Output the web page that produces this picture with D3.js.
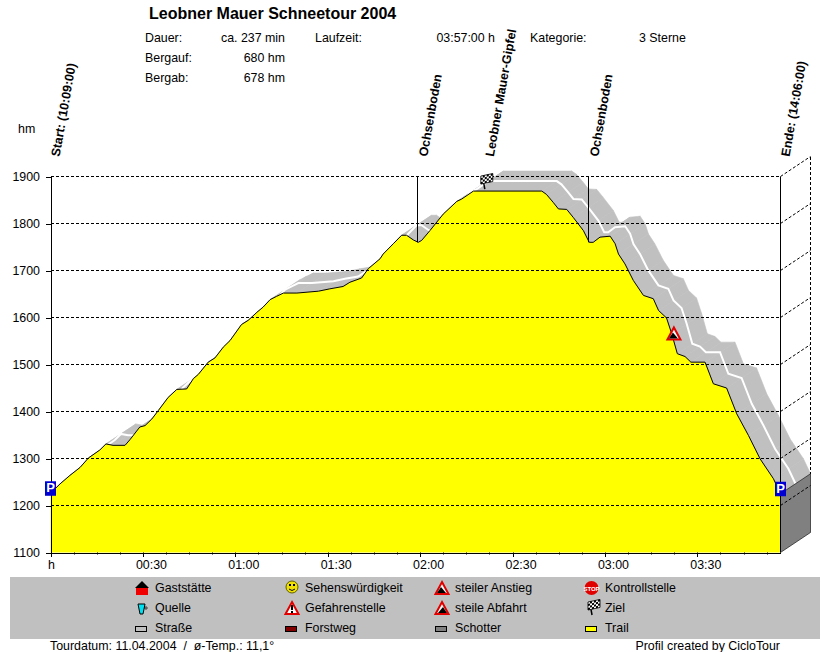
<!DOCTYPE html>
<html>
<head>
    <title>Leobner Mauer Schneetour 2004</title>
    <script src="https://cdnjs.cloudflare.com/ajax/libs/d3/7.8.5/d3.min.js"></script>
    <style>
        body { margin: 0; background: #fff; }
        svg { display: block; }
        text { font-family: "Liberation Sans", Arial, sans-serif; font-size: 12.4px; fill: #000; }
        .title { font-size: 16px; font-weight: bold; }
        .waypoint { font-size: 12.5px; font-weight: bold; }
        .grid { stroke: #000; stroke-width: 1; stroke-dasharray: 3 2; fill: none; shape-rendering: crispEdges; }
        .axis path, .axis line { stroke: #000; shape-rendering: crispEdges; }
    </style>
</head>
<body>
    <div id="chart"></div>
    <script>
        // profile: minutes since start, height in hm
        const minutes = [0, 3.1, 6.3, 9.6, 12.3, 16, 18, 20.3, 24.2, 25.8, 29, 30.7, 32.9, 35, 38.2, 41, 44.2, 46.4, 48, 51.2, 53.4, 56.1, 58.3, 62, 64.2, 67, 69, 71.3, 73.4, 75.6, 80, 87, 90.7, 95, 97.2, 101, 103.2, 107, 108, 111.3, 114, 115.6, 117.8, 119.4, 120.5, 123.2, 127.5, 131.9, 133.5, 137.3, 159.5, 161, 163.2, 164.9, 167.6, 169.7, 173, 174.9, 176.2, 178.4, 181.7, 183.3, 184.4, 186.5, 189.2, 192.5, 195.7, 197.4, 200, 201.7, 203.5, 206, 207.9, 212.5, 215.2, 219.5, 222.8, 226.6, 230.4, 234.7, 237];
        const elevation = [1226, 1246, 1264, 1281, 1301, 1318, 1331, 1328, 1328, 1340, 1367, 1370, 1384, 1402, 1430, 1447, 1448, 1470, 1479, 1505, 1514, 1537, 1551, 1585, 1594, 1611, 1622, 1638, 1645, 1652, 1652, 1656, 1661, 1666, 1675, 1684, 1704, 1725, 1735, 1757, 1775, 1775, 1765, 1760, 1764, 1785, 1820, 1847, 1852, 1869, 1869, 1862, 1845, 1831, 1830, 1813, 1785, 1760, 1760, 1771, 1773, 1757, 1735, 1714, 1679, 1647, 1640, 1615, 1599, 1565, 1523, 1517, 1505, 1505, 1459, 1450, 1395, 1349, 1299, 1257, 1225];

        const yTicks = [1100, 1200, 1300, 1400, 1500, 1600, 1700, 1800, 1900];
        const xMajor = [0, 30, 60, 90, 120, 150, 180, 210];
        const xLabels = ["h", "00:30", "01:00", "01:30", "02:00", "02:30", "03:00", "03:30"];
        const xMinor = d3.range(7.5, 237, 7.5);

        const waypointNames = ["Start: (10:09:00)", "Ochsenboden", "Leobner Mauer-Gipfel", "Ochsenboden", "Ende: (14:06:00)"];
        const waypointMinutes = [0, 119.4, 141, 174.9, 237];
        const hazardMinute = 202.4;
        const hazardHeight = 1565;

        const legendLabels = ["Gaststätte", "Quelle", "Straße", "Sehenswürdigkeit", "Gefahrenstelle", "Forstweg", "steiler Anstieg", "steile Abfahrt", "Schotter", "Kontrollstelle", "Ziel", "Trail"];
        const legendIcons = ["inn", "spring", "#c0c0c0", "smile", "danger", "#800000", "up", "down", "#808080", "stop", "flag", "#ffff00"];

        const infoLeft = [["Dauer:", "ca. 237 min"], ["Bergauf:", "680 hm"], ["Bergab:", "678 hm"]];

        const W = 830, H = 652;
        const depth = {x: 30, y: -20};

        const svg = d3.select("#chart").append("svg").attr("width", W).attr("height", H);

        const x = d3.scaleLinear().domain([0, 237]).range([50.5, 780.5]);
        const y = d3.scaleLinear().domain([1100, 1900]).range([552.5, 176.5]);

        const profile = minutes.map((m, i) => [x(m), y(elevation[i])]);

        // road surface in the depth direction, one quad per step so folds stay filled
        svg.append("g").selectAll("polygon")
            .data(d3.pairs(profile))
            .join("polygon")
            .attr("points", ([a, b]) => [a, b, [b[0] + depth.x, b[1] + depth.y], [a[0] + depth.x, a[1] + depth.y]].join(" "))
            .attr("fill", "#c0c0c0")
            .attr("stroke", "#c0c0c0")
            .attr("stroke-width", 0.6);

        svg.append("path")
            .attr("d", d3.line()(profile.map(p => [p[0] + depth.x / 2, p[1] + depth.y / 2])))
            .attr("fill", "none")
            .attr("stroke", "#fff")
            .attr("stroke-width", 2);

        svg.append("path")
            .attr("d", d3.area().x(d => d[0]).y1(d => d[1]).y0(y(1100))(profile))
            .attr("fill", "#ffff00");

        // end wall
        const end = profile[profile.length - 1];
        svg.append("polygon")
            .attr("points", [end, [end[0] + depth.x, end[1] + depth.y], [x(237) + depth.x, y(1100) + depth.y], [x(237), y(1100)]].join(" "))
            .attr("fill", "#808080")
            .attr("stroke", "#000")
            .attr("stroke-width", 0.6);

        // grid, front and back
        const grid = svg.append("g").attr("class", "grid");
        yTicks.filter(d => d > 1100).forEach(t => {
            grid.append("line").attr("x1", x(0)).attr("x2", x(237)).attr("y1", y(t)).attr("y2", y(t));
        });
        yTicks.filter(d => d > 1100).forEach(t => {
            grid.append("line").attr("x1", x(237)).attr("x2", x(237) + depth.x)
                .attr("y1", y(t)).attr("y2", y(t) + depth.y)
                .style("shape-rendering", "auto");
        });
        grid.append("line").attr("x1", x(237) + depth.x).attr("x2", x(237) + depth.x)
            .attr("y1", y(1900) + depth.y).attr("y2", end[1] + depth.y);

        svg.append("path")
            .attr("d", d3.line()(profile))
            .attr("fill", "none")
            .attr("stroke", "#000")
            .attr("stroke-width", 1);

        // axes
        const yAxis = svg.append("g").attr("class", "axis")
            .attr("transform", `translate(${x(0)},0)`)
            .call(d3.axisLeft(y).tickValues(yTicks).tickFormat(d => d).tickSize(5).tickSizeOuter(0));
        yAxis.selectAll("text").style("font-size", "12.4px").attr("x", -10.5).attr("fill", "#000");
        yAxis.select(".domain").attr("stroke", "#000");

        const xAxis = svg.append("g").attr("class", "axis")
            .attr("transform", `translate(0,${y(1100)})`)
            .call(d3.axisBottom(x).tickValues(xMajor).tickFormat((d, i) => xLabels[i]).tickSize(4).tickSizeOuter(0));
        xAxis.selectAll("text")
            .style("font-size", "12.4px")
            .style("text-anchor", "start")
            .attr("fill", "#000")
            .attr("x", (d, i) => i === 0 ? -3 : -7.5)
            .attr("y", 8)
            .attr("dy", "0.71em");
        svg.append("g").selectAll("line").data(xMinor).join("line")
            .attr("x1", d => Math.round(x(d)) + 0.5).attr("x2", d => Math.round(x(d)) + 0.5)
            .attr("y1", y(1100)).attr("y2", y(1100) + 2)
            .attr("stroke", "#000");

        // front right edge
        svg.append("line")
            .attr("x1", x(237)).attr("x2", x(237)).attr("y1", y(1900)).attr("y2", y(1100))
            .attr("stroke", "#000");

        // waypoints
        waypointMinutes.forEach((m, i) => {
            svg.append("text")
                .attr("class", "waypoint")
                .attr("transform", `translate(${x(m) + 9},157) rotate(-80)`)
                .text(waypointNames[i]);
        });
        [1, 3].forEach(i => {
            const k = minutes.indexOf(waypointMinutes[i]);
            svg.append("line")
                .attr("x1", Math.round(x(minutes[k])) - 0.5).attr("x2", Math.round(x(minutes[k])) - 0.5)
                .attr("y1", y(1900)).attr("y2", y(elevation[k]))
                .attr("stroke", "#000");
        });

        function triangle(g, cx, cy, mirrored) {
            g.append("path")
                .attr("d", `M${cx},${cy - 6} L${cx + 6.5},${cy + 6} L${cx - 6.5},${cy + 6} Z`)
                .attr("fill", "#fff").attr("stroke", "#e00000").attr("stroke-width", 2);
            const s = mirrored ? -1 : 1;
            g.append("path")
                .attr("d", `M${cx - s * 5},${cy + 5} L${cx - s * 1},${cy - 1} L${cx + s * 4},${cy + 5} Z`)
                .attr("fill", "#000");
        }

        function flag(g, cx, cy) {
            g.append("line").attr("x1", cx - 3).attr("y1", cy - 3).attr("x2", cx - 1).attr("y2", cy + 8)
                .attr("stroke", "#000").attr("stroke-width", 1.5);
            const f = g.append("g").attr("transform", `translate(${cx - 5},${cy - 5}) skewY(-12)`);
            f.append("rect").attr("width", 12).attr("height", 8).attr("fill", "#fff").attr("stroke", "#000").attr("stroke-width", 0.8);
            d3.range(6).forEach(c => d3.range(4).forEach(r => {
                if ((c + r) % 2) f.append("rect").attr("x", c * 2).attr("y", r * 2).attr("width", 2).attr("height", 2).attr("fill", "#000");
            }));
        }

        function parking(g, cx, bottom) {
            g.append("rect").attr("x", cx - 5.5).attr("y", bottom - 14.5).attr("width", 11).attr("height", 14.5).attr("fill", "#0000d0");
            g.append("text").attr("x", cx).attr("y", bottom - 3.5).attr("text-anchor", "middle")
                .style("font-size", "13px").style("font-weight", "bold").style("fill", "#fff").text("P");
        }

        const marks = svg.append("g");
        parking(marks, x(0), profile[0][1] + 2.5);
        parking(marks, x(237), end[1] + 2.5);
        triangle(marks, x(hazardMinute), y(hazardHeight) - 0.5, false);
        flag(marks, x(waypointMinutes[2]) + 1, y(1869) - 10);

        // header
        svg.append("text").attr("class", "title").attr("x", 149).attr("y", 19).text("Leobner Mauer Schneetour 2004");
        infoLeft.forEach((row, i) => {
            const ty = 42 + i * 20;
            svg.append("text").attr("x", 145).attr("y", ty).text(row[0]);
            svg.append("text").attr("x", 285).attr("y", ty).attr("text-anchor", "end").text(row[1]);
        });
        svg.append("text").attr("x", 315).attr("y", 42).text("Laufzeit:");
        svg.append("text").attr("x", 495).attr("y", 42).attr("text-anchor", "end").text("03:57:00 h");
        svg.append("text").attr("x", 530).attr("y", 42).text("Kategorie:");
        svg.append("text").attr("x", 639).attr("y", 42).text("3 Sterne");
        svg.append("text").attr("x", 18).attr("y", 133).text("hm");

        // legend
        svg.append("rect").attr("x", 10).attr("y", 577).attr("width", 810).attr("height", 62).attr("fill", "#c0c0c0");
        const legend = svg.append("g");
        legendLabels.forEach((label, i) => {
            const col = Math.floor(i / 3), row = i % 3;
            const cx = 142 + col * 150, cy = 588 + row * 20;
            legend.append("text").attr("x", cx + 13).attr("y", cy + 4).text(label);
            const icon = legendIcons[i];
            if (icon[0] === "#") {
                legend.append("rect").attr("x", cx - 6.5).attr("y", cy - 1.5).attr("width", 11).attr("height", 5)
                    .attr("fill", icon).attr("stroke", "#000");
            } else if (icon === "inn") {
                legend.append("rect").attr("x", cx - 6).attr("y", cy - 1).attr("width", 12).attr("height", 8).attr("fill", "#f00000");
                legend.append("path").attr("d", `M${cx},${cy - 7} L${cx + 7},${cy} L${cx - 7},${cy} Z`).attr("fill", "#000");
            } else if (icon === "spring") {
                legend.append("path").attr("d", `M${cx - 4},${cy - 4} H${cx + 3} L${cx + 1},${cy + 6} H${cx - 2} Z`)
                    .attr("fill", "#00e0f0").attr("stroke", "#000");
                legend.append("circle").attr("cx", cx + 4).attr("cy", cy).attr("r", 1.2).attr("fill", "none").attr("stroke", "#000").attr("stroke-width", 0.7);
            } else if (icon === "smile") {
                legend.append("circle").attr("cx", cx).attr("cy", cy - 1).attr("r", 6).attr("fill", "#f0e000").attr("stroke", "#606000");
                legend.append("rect").attr("x", cx - 3).attr("y", cy - 4).attr("width", 2).attr("height", 2).attr("fill", "#000");
                legend.append("rect").attr("x", cx + 1).attr("y", cy - 4).attr("width", 2).attr("height", 2).attr("fill", "#000");
                legend.append("path").attr("d", `M${cx - 3},${cy + 1} Q${cx},${cy + 4} ${cx + 3},${cy + 1}`).attr("fill", "none").attr("stroke", "#000");
            } else if (icon === "danger") {
                legend.append("path").attr("d", `M${cx},${cy - 6} L${cx + 6.5},${cy + 6} L${cx - 6.5},${cy + 6} Z`)
                    .attr("fill", "#fff").attr("stroke", "#e00000").attr("stroke-width", 2);
                legend.append("rect").attr("x", cx - 1).attr("y", cy - 3).attr("width", 2).attr("height", 5).attr("fill", "#000");
                legend.append("rect").attr("x", cx - 1).attr("y", cy + 3).attr("width", 2).attr("height", 2).attr("fill", "#000");
            } else if (icon === "up" || icon === "down") {
                triangle(legend, cx, cy, icon === "down");
            } else if (icon === "stop") {
                legend.append("circle").attr("cx", cx - 0.5).attr("cy", cy).attr("r", 7).attr("fill", "#e00000");
                legend.append("text").attr("x", cx - 0.5).attr("y", cy + 2.5).attr("text-anchor", "middle")
                    .style("font-size", "6px").style("font-weight", "bold").style("fill", "#fff").text("STOP");
            } else if (icon === "flag") {
                flag(legend, cx + 1, cy - 1);
            }
        });

        // footer
        svg.append("text").attr("x", 50).attr("y", 650).text("Tourdatum: 11.04.2004  /  ø-Temp.: 11,1°").attr("xml:space", "preserve");
        svg.append("text").attr("x", 780).attr("y", 650).attr("text-anchor", "end").text("Profil created by CicloTour");
    </script>
</body>
</html>
